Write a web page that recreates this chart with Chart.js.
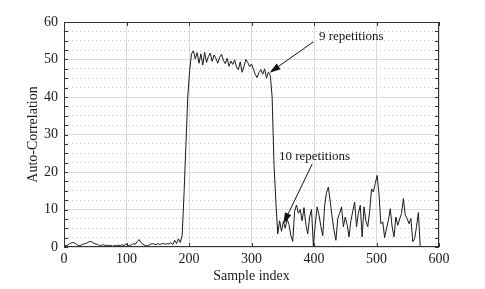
<!DOCTYPE html>
<html>
<head>
<meta charset="utf-8">
<script src="https://cdn.jsdelivr.net/npm/chart.js@4.4.0/dist/chart.umd.min.js"></script>
<style>
  html, body { margin: 0; padding: 0; background: #fff; }
  .wrap { width: 485px; height: 289px; }
</style>
</head>
<body>
<div class="wrap"><canvas id="acChart"></canvas></div>
<script>
// ---- data ----
const sampleStep = 3;
const autoCorr = [
  // 0 - 186: noise floor
  0.2, 0.4, 0.5, 0.9, 1.1, 1.2, 1.0, 0.6, 0.3, 0.5,
  0.7, 0.9, 1.0, 1.3, 1.5, 1.3, 1.0, 0.8, 0.7, 0.3,
  0.5, 0.6, 0.4, 0.5, 0.3, 0.4, 0.2, 0.4, 0.3, 0.5,
  0.3, 0.6, 0.4, 0.8, 0.5, 0.3, 0.6, 0.9, 0.7, 1.4,
  2.0, 1.2, 0.8, 0.5, 0.3, 0.4, 0.7, 0.9, 0.8, 0.6,
  0.9, 0.7, 0.8, 1.0, 0.7, 0.9, 0.8, 1.2, 0.6, 1.8,
  0.9, 2.2, 1.2,
  // 189 - 201: rising edge
  3.0, 14.0, 27.0, 40.0, 47.0,
  // 204 - 330: plateau
  51.5, 52.3, 50.2, 51.8, 49.0, 51.5, 48.5, 51.9, 49.2, 50.8,
  51.7, 49.5, 51.2, 50.3, 49.0, 50.6, 51.4, 49.8, 48.9, 50.3,
  48.2, 49.6, 48.7, 49.9, 48.0, 47.3, 49.4, 46.6, 48.2, 50.0,
  49.2, 48.1, 48.8, 47.5, 46.0, 45.2, 46.5, 47.3, 46.1, 47.5,
  45.0, 46.6, 45.8,
  // 333 - 339: falling edge
  40.0, 22.0, 12.0,
  // 342 - 570: noisy tail
  3.5, 7.0, 4.2, 6.8, 5.0, 7.5, 6.0, 3.0, 1.5, 9.5,
  11.2, 9.0, 10.0, 7.0, 10.5, 6.0, 3.5, 8.0, 10.0, 0.3,
  6.0, 10.7, 8.5, 5.5, 3.0, 11.0, 14.5, 16.0, 12.0, 8.0,
  4.5, 1.8, 7.5, 9.0, 10.7, 5.4, 8.0, 6.0, 2.7, 7.0,
  9.5, 12.0, 5.4, 9.0, 11.1, 2.7, 10.7, 7.0, 5.4, 9.4,
  15.5, 14.7, 17.0, 19.1, 14.0, 6.2, 6.7, 2.5, 5.0, 7.1,
  10.2, 5.4, 2.7, 8.0, 5.8, 7.5, 8.9, 12.9, 8.5, 7.6,
  6.2, 7.6, 1.4, 2.2, 5.4, 9.2, 0.0
];
const xTickStep = 100;
const yTickStep = 2.5;
const yLabelEvery = 10;

const notes = [
  { label: '9 repetitions',  tip: [329, 46.5], tail: [399, 54.7], at: [408, 55.2] },
  { label: '10 repetitions', tip: [351, 6.2],  tail: [397, 22.1], at: [344, 23.1] }
];

const points = autoCorr.map((v, i) => ({ x: i * sampleStep, y: v }));

Chart.defaults.font.family = '"Liberation Serif", "Times New Roman", serif';
Chart.defaults.color = '#1a1a1a';

// box, inward ticks and arrow annotations
const framePlugin = {
  id: 'frame',
  afterDraw(chart) {
    const { ctx, chartArea: a, scales: { x, y } } = chart;
    ctx.save();
    ctx.strokeStyle = '#333';
    ctx.lineWidth = 1;
    ctx.strokeRect(a.left + 0.5, a.top + 0.5, a.right - a.left - 1, a.bottom - a.top - 1);
    ctx.beginPath();
    y.ticks.forEach(t => {
      const py = Math.round(y.getPixelForValue(t.value)) + 0.5;
      ctx.moveTo(a.left, py); ctx.lineTo(a.left + 4, py);
      ctx.moveTo(a.right, py); ctx.lineTo(a.right - 4, py);
    });
    x.ticks.forEach(t => {
      const px = Math.round(x.getPixelForValue(t.value)) + 0.5;
      ctx.moveTo(px, a.bottom); ctx.lineTo(px, a.bottom - 4);
      ctx.moveTo(px, a.top); ctx.lineTo(px, a.top + 4);
    });
    ctx.stroke();

    ctx.fillStyle = '#111';
    ctx.strokeStyle = '#111';
    ctx.font = '13px "Liberation Serif", serif';
    ctx.textBaseline = 'alphabetic';
    notes.forEach(n => {
      const tx = x.getPixelForValue(n.tail[0]), ty = y.getPixelForValue(n.tail[1]);
      const hx = x.getPixelForValue(n.tip[0]), hy = y.getPixelForValue(n.tip[1]);
      const ang = Math.atan2(hy - ty, hx - tx);
      const len = 11, half = 3.5;
      const bx = hx - len * Math.cos(ang), by = hy - len * Math.sin(ang);
      ctx.beginPath(); ctx.moveTo(tx, ty); ctx.lineTo(bx, by); ctx.stroke();
      ctx.beginPath();
      ctx.moveTo(hx, hy);
      ctx.lineTo(bx + half * Math.sin(ang), by - half * Math.cos(ang));
      ctx.lineTo(bx - half * Math.sin(ang), by + half * Math.cos(ang));
      ctx.closePath();
      ctx.fill();
      ctx.fillText(n.label, x.getPixelForValue(n.at[0]), y.getPixelForValue(n.at[1]));
    });
    ctx.restore();
  }
};

const isMajor = v => Math.abs(v % yLabelEvery) < 1e-6;

new Chart(document.getElementById('acChart'), {
  type: 'line',
  data: {
    datasets: [{
      data: points,
      borderColor: '#1a1a1a',
      borderWidth: 1,
      pointRadius: 0,
      tension: 0,
      fill: false
    }]
  },
  options: {
    responsive: true,
    maintainAspectRatio: false,
    animation: false,
    layout: { padding: { left: 21, right: 46, top: 22, bottom: 0 } },
    plugins: { legend: { display: false }, tooltip: { enabled: false } },
    scales: {
      x: {
        type: 'linear', min: 0, max: 600,
        afterFit: s => { s.height = 42; },
        ticks: { stepSize: xTickStep, padding: 4, maxRotation: 0, font: { size: 14 } },
        grid: { color: '#dadada', drawTicks: false },
        border: { display: false },
        title: { display: true, text: 'Sample index', font: { size: 14 }, padding: { top: 4, bottom: 4 } }
      },
      y: {
        min: 0, max: 60,
        afterFit: s => { s.width = 43; },
        ticks: {
          stepSize: yTickStep, padding: 6, autoSkip: false, font: { size: 14 },
          callback: v => isMajor(v) ? v : ''
        },
        grid: {
          drawTicks: false,
          color: c => (c.tick && isMajor(c.tick.value)) ? '#dadada' : '#c9c9c9'
        },
        border: {
          display: false,
          dash: c => (c.tick && isMajor(c.tick.value)) ? [] : [1, 3]
        },
        title: { display: true, text: 'Auto-Correlation', font: { size: 14 }, padding: { top: 4, bottom: 4 } }
      }
    }
  },
  plugins: [framePlugin]
});
</script>
</body>
</html>
